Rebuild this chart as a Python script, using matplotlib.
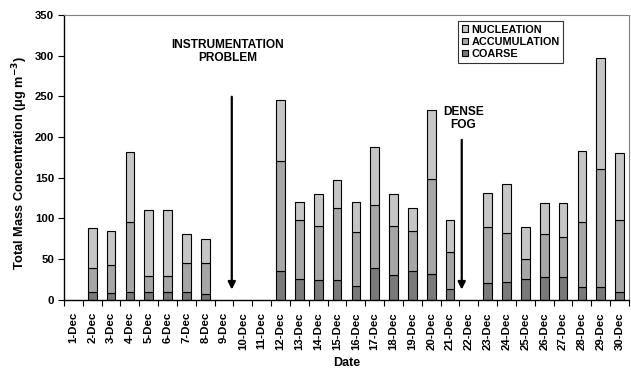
import numpy as np
import matplotlib
matplotlib.use("Agg")
import matplotlib.pyplot as plt

plt.rcParams['font.family'] = ['Liberation Sans', 'DejaVu Sans']
plt.rcParams['font.weight'] = 'bold'
plt.rcParams['mathtext.default'] = 'bf'

dates = [f"{d}-Dec" for d in range(1, 31)]

# stacked mass concentrations (ug m-3), NaN = no data
coarse = [np.nan, 9.5, 8.6, 9, 10, 10, 9, 7, np.nan, np.nan, np.nan, 35, 26, 24, 24, 17,
          38.6, 30, 35, 31, 13, np.nan, 20, 21.5, 25, 27.5, 27.5, 15.5, 15.5, 10]
accumulation_top = [np.nan, 38.6, 43, 95, 29, 29, 44.8, 45, np.nan, np.nan, np.nan, 170.9, 98.6,
                    91, 112.6, 83, 116.7, 91, 85, 148, 59, np.nan, 89, 81.8, 50.5, 81, 77.6,
                    96, 160.6, 98.6]
total = [np.nan, 88.7, 85, 181.6, 109.7, 109.7, 80.5, 75, np.nan, np.nan, np.nan, 245.7, 120,
         129.4, 147, 120, 187.5, 130, 113, 232.9, 98, np.nan, 131, 141.7, 89.6, 119, 119.5,
         182.8, 297, 180.4]

coarse = np.array(coarse)
accumulation = np.array(accumulation_top) - coarse
nucleation = np.array(total) - np.array(accumulation_top)

fig = plt.figure(figsize=(6.31, 3.68), dpi=100)
ax = fig.add_axes([0.1014, 0.1856, 0.8954, 0.7734])

x = np.arange(len(dates))
w = 0.46
ax.bar(x, coarse, w, color='#7a7a7a', edgecolor='black', linewidth=0.8, label='COARSE')
ax.bar(x, accumulation, w, bottom=coarse, color='#a6a6a6', edgecolor='black', linewidth=0.8,
       label='ACCUMULATION')
ax.bar(x, nucleation, w, bottom=coarse + accumulation, color='#c6c6c6', edgecolor='black',
       linewidth=0.8, label='NUCLEATION')

ax.set_xlim(-0.5, len(dates) - 0.5)
ax.set_ylim(0, 350)
ax.set_yticks(np.arange(0, 351, 50))
ax.set_xticks(x)
ax.set_xticklabels(dates, rotation=90, fontsize=8.2, fontweight='bold')
ax.tick_params(axis='x', length=0, pad=9)
ax.set_xticks(np.arange(-0.5, len(dates), 1), minor=True)
ax.tick_params(axis='x', which='minor', length=4, width=0.8, direction='out')
ax.tick_params(axis='y', length=4, width=0.8, labelsize=8.2, pad=3)
for t in ax.get_yticklabels():
    t.set_fontweight('bold')

for side in ['top', 'right']:
    ax.spines[side].set_color('#808080')
    ax.spines[side].set_linewidth(0.8)
for side in ['left', 'bottom']:
    ax.spines[side].set_linewidth(1.0)

ax.set_ylabel('Total Mass Concentration (\u03bcg m$^{-3}$)', fontsize=9.2,
              fontweight='bold', labelpad=0)
ax.yaxis.set_label_coords(-0.061, 0.48)
ax.set_xlabel('Date', fontsize=9, fontweight='bold', labelpad=5)

# annotations
ax.annotate('', xy=(8.41, 9), xytext=(8.41, 253),
            arrowprops=dict(arrowstyle='-|>', color='black', lw=1.6, mutation_scale=11))
ax.text(8.2, 305, 'INSTRUMENTATION\nPROBLEM', ha='center', va='center', fontsize=8.6,
        fontweight='bold', linespacing=1.1)
ax.annotate('', xy=(20.62, 9), xytext=(20.62, 200),
            arrowprops=dict(arrowstyle='-|>', color='black', lw=1.6, mutation_scale=11))
ax.text(20.7, 223, 'DENSE\nFOG', ha='center', va='center', fontsize=8.6,
        fontweight='bold', linespacing=1.1)

h, l = ax.get_legend_handles_labels()
leg = ax.legend(h[::-1], l[::-1], loc='upper right', bbox_to_anchor=(0.884, 0.98),
                fontsize=7.8, frameon=True, fancybox=False, edgecolor='black',
                handlelength=0.55, handleheight=0.55, handletextpad=0.3,
                borderpad=0.35, labelspacing=0.2, borderaxespad=0)
leg.get_frame().set_linewidth(0.8)
for t in leg.get_texts():
    t.set_fontweight('bold')

fig.savefig('out.png', dpi=100)
